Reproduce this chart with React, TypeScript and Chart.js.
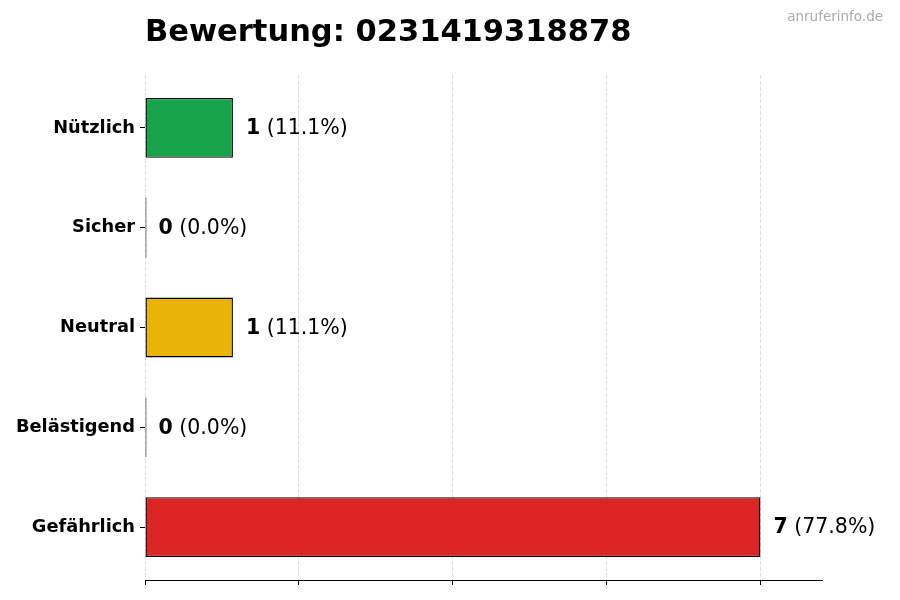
import React, { useEffect, useRef } from 'react';
import Chart from 'chart.js/auto';

const title = 'Bewertung: 0231419318878';
const watermark = 'anruferinfo.de';
const categories = ['Nützlich', 'Sicher', 'Neutral', 'Belästigend', 'Gefährlich'];
const counts = [1, 0, 1, 0, 7];
const percents = ['11.1%', '0.0%', '11.1%', '0.0%', '77.8%'];
const barColors = ['#16a34a', '#2563eb', '#eab308', '#f97316', '#dc2626'];
const xTicks = [0, 1.75, 3.5, 5.25, 7];
const xMax = 7.7;

const FONT = '"DejaVu Sans", sans-serif';

const textPlugin = {
  id: 'texts',
  afterDatasetsDraw(chart: any) {
    const ctx = chart.ctx;
    const meta = chart.getDatasetMeta(0);
    ctx.save();
    ctx.textBaseline = 'middle';
    meta.data.forEach((bar: any, i: number) => {
      const x = (counts[i] === 0 ? bar.base : bar.x) + 13;
      const y = bar.y + 1;
      ctx.fillStyle = '#000';
      ctx.font = `bold 20.5px ${FONT}`;
      ctx.textAlign = 'left';
      const n = String(counts[i]);
      ctx.fillText(n, x, y);
      const w = ctx.measureText(n).width;
      ctx.font = `20.5px ${FONT}`;
      ctx.fillText(` (${percents[i]})`, x + w, y);
    });
    ctx.font = `bold 30.5px ${FONT}`;
    ctx.textBaseline = 'alphabetic';
    ctx.fillStyle = '#000';
    ctx.fillText(title, chart.chartArea.left, 41);
    ctx.font = `13.5px ${FONT}`;
    ctx.fillStyle = '#aaaaaa';
    ctx.textAlign = 'right';
    ctx.textBaseline = 'middle';
    ctx.fillText(watermark, 883, 17);
    ctx.restore();
  },
};

const App: React.FC = () => {
  const canvasRef = useRef<HTMLCanvasElement | null>(null);
  const chartRef = useRef<Chart | null>(null);

  useEffect(() => {
    document.body.style.margin = '0';
    if (!canvasRef.current) return;
    if (chartRef.current) chartRef.current.destroy();

    chartRef.current = new Chart(canvasRef.current, {
      type: 'bar',
      data: {
        datasets: [
          {
            data: counts.map((v, i) => ({ x: v, y: i })),
            // zero-length bars only show their black edge
            backgroundColor: barColors.map((c, i) => (counts[i] === 0 ? '#000' : c)),
            borderColor: '#000',
            borderWidth: 1.4,
            borderSkipped: false,
            minBarLength: 1.5,
            barPercentage: 0.6,
            categoryPercentage: 1,
          },
        ],
      },
      options: {
        indexAxis: 'y',
        animation: false,
        responsive: false,
        layout: { padding: { top: 75, right: 78, bottom: 0, left: 0 } },
        plugins: {
          legend: { display: false },
          title: { display: false },
          tooltip: { enabled: false },
        },
        scales: {
          x: {
            type: 'linear',
            min: 0,
            max: xMax,
            afterBuildTicks: (s: any) => {
              s.ticks = xTicks.map((v) => ({ value: v }));
            },
            afterFit: (s: any) => {
              s.height = 20;
            },
            ticks: { display: false },
            grid: {
              color: '#dddddd',
              lineWidth: 1,
              tickColor: '#000',
              tickLength: 5,
              tickWidth: 1,
            },
            border: { display: true, color: '#000', width: 1, dash: [4, 2] },
          },
          y: {
            type: 'linear',
            min: -0.53,
            max: 4.53,
            reverse: true,
            offset: false,
            afterBuildTicks: (s: any) => {
              s.ticks = categories.map((_, i) => ({ value: i }));
            },
            afterFit: (s: any) => {
              s.width = 145;
            },
            ticks: {
              callback: (v: any) => categories[v as number] ?? '',
              color: '#000',
              font: { family: FONT, size: 17.8, weight: 'bold' },
              padding: 5,
            },
            grid: {
              display: true,
              offset: false,
              drawOnChartArea: false,
              tickColor: '#000',
              tickLength: 5,
              tickWidth: 1,
            },
            border: { display: false },
          },
        },
      },
      plugins: [textPlugin],
    } as any);

    return () => {
      if (chartRef.current) {
        chartRef.current.destroy();
        chartRef.current = null;
      }
    };
  }, []);

  return (
    <div style={{ width: 900, height: 600, background: '#fff' }}>
      <canvas ref={canvasRef} width={900} height={600} style={{ width: 900, height: 600 }}></canvas>
    </div>
  );
};

export default App;
